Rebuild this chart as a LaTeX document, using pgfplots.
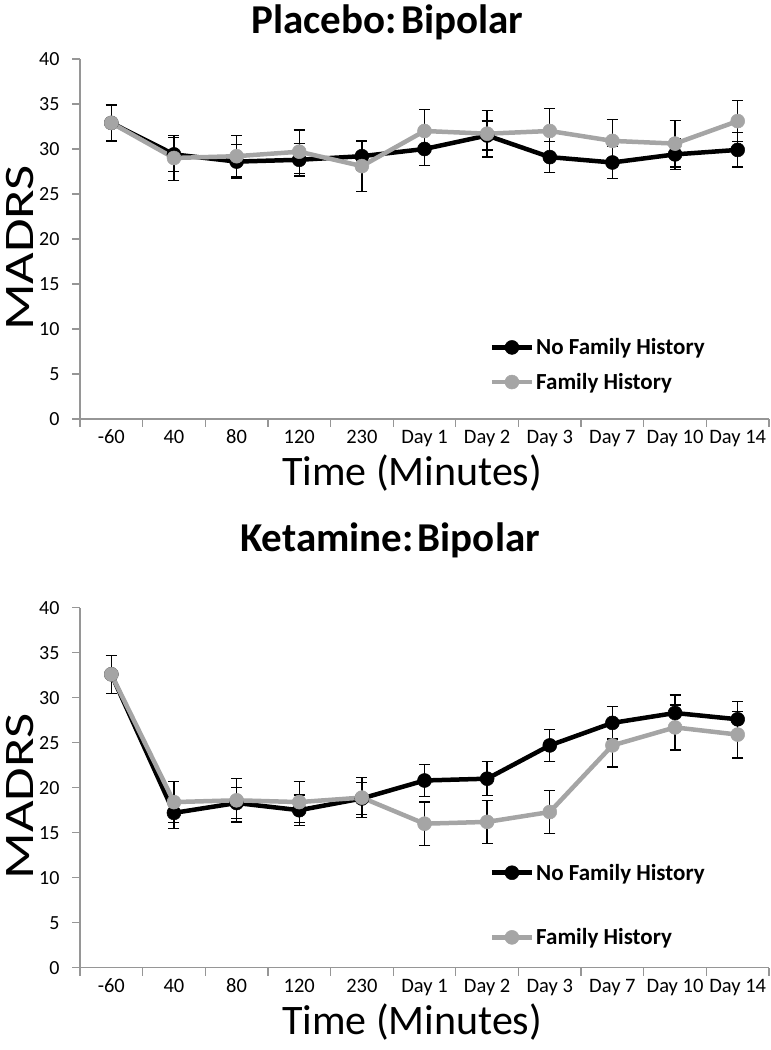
\documentclass[border=0pt]{standalone}
\usepackage{pgfplots}
\pgfplotsset{compat=1.18}
\usepackage{fontspec}
\setmainfont{Carlito}
\definecolor{axgray}{RGB}{150,150,150}
\definecolor{famgray}{RGB}{165,165,165}

\pgfplotstableread{
x y e
0 32.9 2.0
1 29.4 1.9
2 28.6 1.9
3 28.8 1.8
4 29.2 1.6
5 30.0 1.8
6 31.5 1.6
7 29.1 1.7
8 28.5 1.8
9 29.4 1.7
10 29.9 1.9
}\plaNo
\pgfplotstableread{
x y e
0 32.9 2.0
1 29.0 2.5
2 29.2 2.3
3 29.7 2.4
4 28.1 2.8
5 32.0 2.4
6 31.7 2.6
7 32.0 2.5
8 30.9 2.4
9 30.6 2.6
10 33.1 2.3
}\plaFam
\pgfplotstableread{
x y e
0 32.6 2.1
1 17.2 1.7
2 18.3 1.7
3 17.5 1.7
4 18.8 1.8
5 20.8 1.8
6 21.0 1.9
7 24.7 1.8
8 27.2 1.8
9 28.3 2.0
10 27.6 2.0
}\ketNo
\pgfplotstableread{
x y e
0 32.6 2.1
1 18.4 2.3
2 18.6 2.4
3 18.4 2.3
4 18.9 2.2
5 16.0 2.4
6 16.2 2.4
7 17.3 2.4
8 24.7 2.4
9 26.7 2.5
10 25.9 2.6
}\ketFam

\pgfplotsset{
  madrs/.style={
    scale only axis, width=689pt, height=360pt,
    xmin=-0.5, xmax=10.5, ymin=0, ymax=40,
    axis x line*=bottom, axis y line*=left,
    axis line style={axgray, line width=1.3pt},
    xtick={0,...,10},
    xticklabels={-60,40,80,120,230,Day 1,Day 2,Day 3,Day 7,Day 10,Day 14},
    major x tick style={draw=none},
    minor xtick={-0.5,0.5,...,10.5},
    minor x tick style={axgray, line width=1.3pt},
    ytick={0,5,...,40},
    y tick style={axgray, line width=1.3pt},
    tick align=outside,
    major tick length=8pt, minor tick length=8pt,
    /pgf/number format/assume math mode=true,
    xticklabel style={font=\fontsize{20.5}{20.5}\selectfont, anchor=base, yshift=-17pt},
    yticklabel style={font=\fontsize{20}{20}\selectfont, xshift=-9pt},
    xlabel={Time (Minutes)},
    xlabel style={font=\fontsize{42}{42}\selectfont, at={(0.482,0)}, anchor=center, yshift=-54pt},
    ylabel={\scalebox{1.3}[1]{MADRS}},
    ylabel style={font=\fontsize{42}{42}\selectfont, at={(-0.087,0.475)}, anchor=center},
    legend cell align=left,
    legend image code/.code={\draw[mark repeat=2,mark phase=2,#1] plot coordinates {(0pt,0pt) (20pt,0pt) (40pt,0pt)};},
    clip=false,
  },
  nofh/.style={black, line width=4.5pt, mark=*, mark size=7pt, mark options={solid, fill=black, draw=black, line width=0.5pt},
    error bars/.cd, y dir=both, y explicit,
    error bar style={black, line width=1.3pt},
    error mark options={black, line width=1.3pt, mark size=5.5pt, rotate=90}},
  fh/.style={famgray, line width=4.5pt, mark=*, mark size=7pt, mark options={solid, fill=famgray, draw=famgray, line width=0.5pt},
    error bars/.cd, y dir=both, y explicit,
    error bar style={black, line width=1.3pt},
    error mark options={black, line width=1.3pt, mark size=5.5pt, rotate=90}},
}

\begin{document}
\begin{tikzpicture}
\useasboundingbox (0pt,0pt) rectangle (771pt,1050pt);
\begin{axis}[madrs, at={(80pt,631pt)}, anchor=south west,
  legend style={at={(0.59,0.235)}, anchor=north west, draw=none, fill=none,
    font=\bfseries\fontsize{23}{23}\selectfont, row sep=13pt},
]
\node[font=\bfseries\fontsize{41}{41}\selectfont, inner sep=0pt] at (rel axis cs:0.446,1.103) {Placebo:\hspace{0.1em}Bipolar};
\addplot[nofh] table[x=x, y=y, y error=e] {\plaNo};
\addlegendentry{No Family History}
\addplot[fh] table[x=x, y=y, y error=e] {\plaFam};
\addlegendentry{Family History}
\end{axis}
\begin{axis}[madrs, at={(80pt,82.3pt)}, anchor=south west,
  legend style={at={(0.59,0.30)}, anchor=north west, draw=none, fill=none,
    font=\bfseries\fontsize{23}{23}\selectfont, row sep=43pt},
]
\node[font=\bfseries\fontsize{41}{41}\selectfont, inner sep=0pt] at (rel axis cs:0.45,1.186) {Ketamine:\hspace{0.1em}Bipolar};
\addplot[nofh] table[x=x, y=y, y error=e] {\ketNo};
\addlegendentry{No Family History}
\addplot[fh] table[x=x, y=y, y error=e] {\ketFam};
\addlegendentry{Family History}
\end{axis}
\end{tikzpicture}
\end{document}
